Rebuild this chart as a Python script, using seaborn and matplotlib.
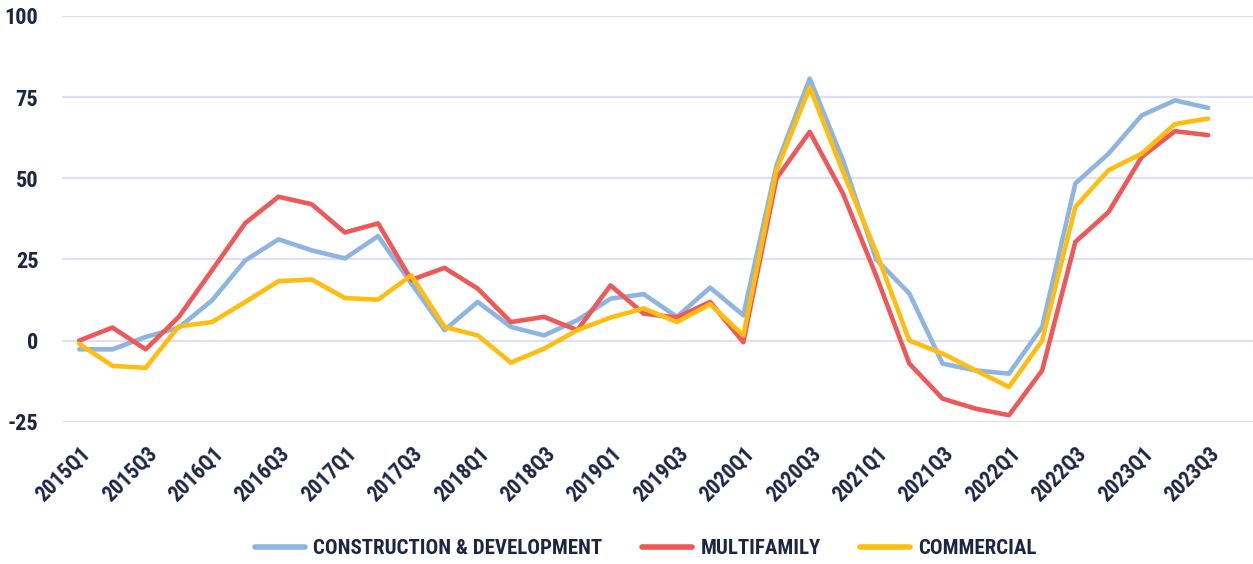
import numpy as np
import pandas as pd
import matplotlib
matplotlib.use("Agg")
import matplotlib.pyplot as plt
import seaborn as sns
from matplotlib.lines import Line2D
from matplotlib import font_manager

quarters = [f"{y}Q{q}" for y in range(2015, 2024) for q in range(1, 5)][:35]

construction = [-2.7, -2.7, 1.1, 4.0, 12.4, 24.7, 31.2, 27.8, 25.3, 32.2,
                17.6, 3.2, 11.9, 4.2, 1.6, 6.3, 12.9, 14.3, 7.3, 16.3,
                7.8, 54.0, 80.7, 55.6, 25.0, 14.5, -7.1, -9.2, -10.2, 4.2,
                48.4, 57.6, 69.4, 74.0, 71.7]
multifamily = [0.0, 4.0, -2.7, 7.3, 21.7, 36.2, 44.3, 42.0, 33.3, 36.1,
               18.7, 22.4, 16.0, 5.7, 7.3, 3.2, 17.0, 8.3, 7.1, 11.9,
               -0.5, 50.0, 64.3, 45.3, 20.0, -7.1, -17.9, -21.0, -23.0, -9.2,
               30.4, 39.6, 56.6, 64.5, 63.3]
commercial = [-1.0, -7.8, -8.4, 4.4, 5.7, 11.9, 18.3, 18.8, 13.1, 12.6,
              20.1, 4.2, 1.6, -6.8, -2.5, 3.2, 7.1, 9.9, 5.7, 11.2,
              1.6, 52.5, 78.0, 52.0, 27.3, 0.0, -4.0, -9.2, -14.3, 0.0,
              41.2, 52.5, 57.6, 66.7, 68.4]

series_names = ["CONSTRUCTION & DEVELOPMENT", "MULTIFAMILY", "COMMERCIAL"]
colors = ["#8DB5E0", "#EF5858", "#FFBE0F"]
y_ticks = [-25, 0, 25, 50, 75, 100]

NAVY = "#1D2545"
GRID = "#DDE1F3"

# pick a narrow bold face if one is around, else plain DejaVu
available = {f.name for f in font_manager.fontManager.ttflist}
narrow = [n for n in ("Roboto Condensed", "Barlow Condensed", "Archivo Narrow",
                      "Saira SemiCondensed") if n in available]
FONT = narrow[:1] + ["DejaVu Sans"]

df = pd.DataFrame({
    "idx": np.tile(np.arange(len(quarters)), 3),
    "value": construction + multifamily + commercial,
    "series": np.repeat(series_names, len(quarters)),
})

sns.set_style("white")
plt.rcParams["font.family"] = FONT
plt.rcParams["axes.unicode_minus"] = False

fig = plt.figure(figsize=(12.53, 5.64), dpi=100)
ax = fig.add_axes([62 / 1253, 1 - 421.7 / 564, 1 - 62 / 1253, (421.7 - 16) / 564])

sns.lineplot(data=df, x="idx", y="value", hue="series", palette=colors,
             hue_order=series_names, linewidth=3.3, ax=ax, legend=False)

ax.set_ylim(-25, 100)
ax.set_xlim(-0.52, 35.35)
ax.set_yticks(y_ticks)
ax.set_yticklabels([str(t) for t in y_ticks])
ax.set_xticks(range(0, len(quarters), 2))
ax.set_xticklabels(quarters[::2])
ax.grid(axis="y", color=GRID, linewidth=1.6)
ax.set_axisbelow(True)
for s in ax.spines.values():
    s.set_visible(False)
ax.set_xlabel("")
ax.set_ylabel("")

ax.tick_params(axis="y", length=0, pad=17, labelsize=16, labelcolor=NAVY)
ax.tick_params(axis="x", length=0, pad=15, labelsize=15.5, labelcolor=NAVY)
for lab in ax.get_yticklabels():
    lab.set_fontweight("bold")
for lab in ax.get_xticklabels():
    lab.set_fontweight("bold")
    lab.set_rotation(45)
    lab.set_ha("right")
    lab.set_rotation_mode("anchor")

handles = [Line2D([0], [0], color=c, linewidth=4) for c in colors]
fig.legend(handles, series_names, loc="center", bbox_to_anchor=(646 / 1253, 1 - 549 / 564),
           ncol=3, frameon=False, handlelength=2.4, handletextpad=0.4,
           columnspacing=1.9, prop={"family": FONT, "weight": "bold", "size": 15},
           labelcolor=NAVY)

fig.savefig("out.png", dpi=100)
